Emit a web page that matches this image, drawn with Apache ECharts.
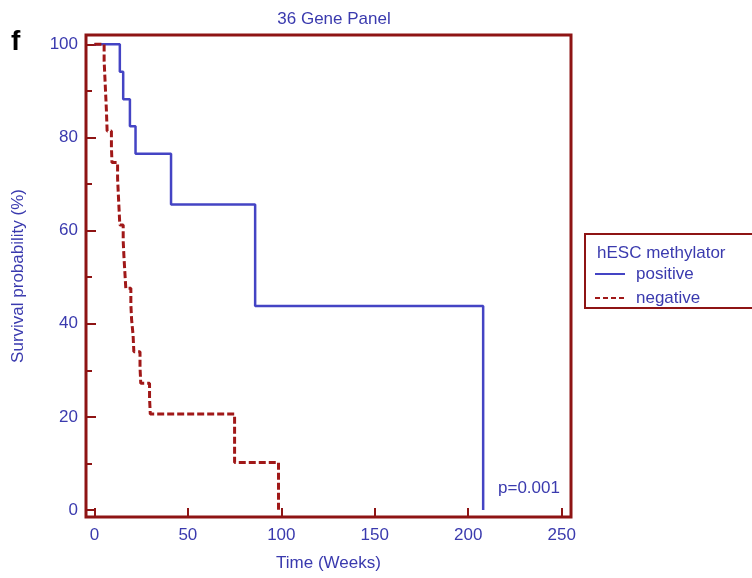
<!DOCTYPE html>
<html>
<head>
<meta charset="utf-8">
<script src="https://cdn.jsdelivr.net/npm/echarts@6/dist/echarts.min.js"></script>
<style>html,body{margin:0;padding:0;background:#fff}#c{width:752px;height:578px}</style>
</head>
<body>
<div id="c"></div>
<script>
// ---- data ----
const title = '36 Gene Panel';
const seriesNames = ['positive', 'negative'];
const legendTitle = 'hESC methylator';
const xTicks = [0, 50, 100, 150, 200, 250];
const yTicks = [0, 20, 40, 60, 80, 100];
const yMinorTicks = [10, 30, 50, 70, 90];
// Kaplan-Meier step points [time (weeks), survival %]
const positive = [[0,100],[13.6,94.1],[15.4,88.2],[19,82.4],[22,76.5],[41,65.6],[86,43.8],[208,43.8],[208,0]];
const negative = [[0,100],[5.2,96.5],[5.6,93],[6.0,89.5],[6.4,86],[6.8,81.4],[9.1,78],[9.4,74.6],
  [12.4,71.2],[12.8,67.8],[13.2,64.5],[13.6,61.2],[15.4,57.8],[15.8,54.4],[16.3,51],[16.8,47.6],
  [19.5,44.2],[19.9,40.9],[20.7,37.5],[21.1,34],[24.4,30.6],[24.8,27.2],[29.5,24],[29.9,20.6],
  [75,10.2],[98.5,0]];
const pText = 'p=0.001';

const BLUE_TXT = '#3a3aae';
const BLUE = '#4444c4';
const RED = '#a01818';
const FRAME = '#8e1414';
const FONT = 'Liberation Sans, Arial, sans-serif';
const FS = 17;

const chart = echarts.init(document.getElementById('c'));
const xBase = {type:'value', min:-4.5, max:255, splitLine:{show:false}, axisLine:{show:false, onZero:false}};
const yBase = {type:'value', min:-1.5, max:102, splitLine:{show:false}, axisLine:{show:false, onZero:false}};
chart.setOption({
  animation:false,
  backgroundColor:'#fff',
  title:{text:title, left:329, top:6, textAlign:'center',
    textStyle:{color:BLUE_TXT, fontSize:FS, fontWeight:'normal', fontFamily:FONT}},
  grid:{left:86, right:181, top:35, bottom:61, show:true, borderColor:FRAME, borderWidth:3, backgroundColor:'transparent'},
  xAxis:[
    Object.assign({}, xBase, {
      name:'Time (Weeks)', nameLocation:'middle', nameGap:38,
      nameTextStyle:{color:BLUE_TXT, fontSize:FS, fontFamily:FONT},
      axisTick:{show:true, inside:true, length:9, customValues:xTicks, lineStyle:{color:FRAME, width:2}},
      axisLabel:{show:true, customValues:xTicks, margin:10, color:BLUE_TXT, fontSize:FS, fontFamily:FONT}
    })
  ],
  yAxis:[
    Object.assign({}, yBase, {
      name:'Survival probability (%)', nameLocation:'middle', nameGap:59,
      nameTextStyle:{color:BLUE_TXT, fontSize:FS, fontFamily:FONT},
      axisTick:{show:true, inside:true, length:10, customValues:yTicks, lineStyle:{color:FRAME, width:2}},
      axisLabel:{show:true, customValues:yTicks, margin:8, color:BLUE_TXT, fontSize:FS, fontFamily:FONT}
    }),
    Object.assign({}, yBase, {
      position:'left',
      axisTick:{show:true, inside:true, length:6, customValues:yMinorTicks, lineStyle:{color:FRAME, width:2}},
      axisLabel:{show:false}
    })
  ],
  graphic:[
    {type:'text', left:11, top:28, style:{text:'f', fill:'#000', font:'bold 28px '+FONT}},
    {type:'rect', shape:{x:585, y:234, width:180, height:74}, style:{fill:'none', stroke:FRAME, lineWidth:2}},
    {type:'text', left:597, top:245, style:{text:legendTitle, fill:BLUE_TXT, font:FS+'px '+FONT}},
    {type:'line', shape:{x1:595, y1:274, x2:625, y2:274}, style:{stroke:BLUE, lineWidth:2}},
    {type:'text', left:636, top:266, style:{text:seriesNames[0], fill:BLUE_TXT, font:FS+'px '+FONT}},
    {type:'line', shape:{x1:595, y1:298, x2:626, y2:298}, style:{stroke:RED, lineWidth:2, lineDash:[5,3]}},
    {type:'text', left:636, top:290, style:{text:seriesNames[1], fill:BLUE_TXT, font:FS+'px '+FONT}},
    {type:'text', left:498, top:480, style:{text:pText, fill:BLUE_TXT, font:FS+'px '+FONT}}
  ],
  series:[
    {name:seriesNames[0], type:'line', step:'end', data:positive, symbol:'none', showSymbol:false,
     color:BLUE, lineStyle:{color:BLUE, width:2.5}, z:3},
    {name:seriesNames[1], type:'line', step:'end', data:negative, symbol:'none', showSymbol:false,
     color:RED, lineStyle:{color:RED, width:3, type:[7,3]}, z:4}
  ]
});
</script>
</body>
</html>
